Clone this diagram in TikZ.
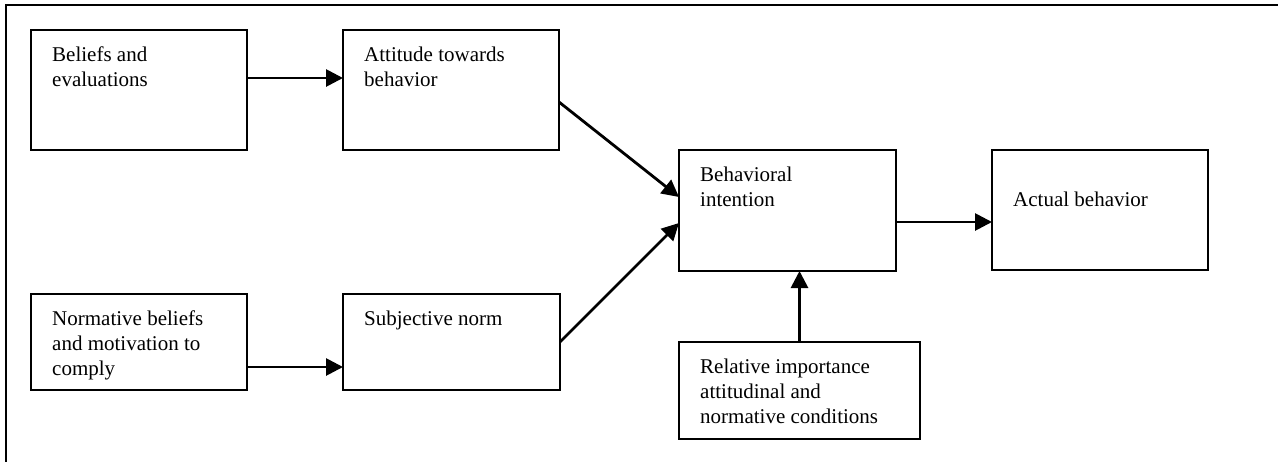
\documentclass[tikz,border=0pt]{standalone}
\usepackage{fontspec}
\setmainfont{Liberation Serif}
\usetikzlibrary{arrows.meta}

\begin{document}
\begin{tikzpicture}[x=1pt, y=-1pt,
  blk/.style={draw, line width=1.6pt, inner sep=0pt, outer sep=0pt, anchor=north west},
  txt/.style={anchor=north west, inner sep=0pt, align=left, xshift=21pt, yshift=-16.7pt,
    font=\fontsize{21}{25}\selectfont},
  arr/.style={line width=2.8pt, -{Triangle[length=17pt, width=17pt]}}]
\useasboundingbox (0,0) rectangle (1278,461);
\clip (0,0) rectangle (1278,461);
\coordinate (f1) at (6,5);
\coordinate (f2) at (1300,480);
\draw [line width=2pt] (f1) rectangle (f2);
\node[blk, minimum width=216pt, minimum height=120pt, label={[txt]north west:{Beliefs and\\evaluations}}] (bel) at (31,30) {};
\node[blk, minimum width=216pt, minimum height=120pt, label={[txt]north west:{Attitude towards\\behavior}}] (att) at (343,30) {};
\node[blk, minimum width=216pt, minimum height=96pt, label={[txt]north west:{Normative beliefs\\and motivation to\\comply}}] (nor) at (31,294) {};
\node[blk, minimum width=217pt, minimum height=96pt, label={[txt]north west:{Subjective norm}}] (sub) at (343,294) {};
\node[blk, minimum width=217pt, minimum height=121pt, label={[txt]north west:{Behavioral\\intention}}] (beh) at (679,150) {};
\node[blk, minimum width=216pt, minimum height=120pt, label={[txt, yshift=-25pt]north west:{Actual behavior}}] (act) at (992,150) {};
\node[blk, minimum width=241pt, minimum height=97pt, label={[txt]north west:{Relative importance\\attitudinal and\\normative conditions}}] (rel) at (679,342) {};
\draw [arr] ([yshift=12pt]bel.east) -- ([yshift=12pt]bel.east -| att.west);
\draw [arr] ([yshift=-25pt]nor.east) -- ([yshift=-25pt]nor.east -| sub.west);
\draw [arr] ([yshift=-12pt]att.east) -- ([yshift=13.5pt]beh.west);
\draw [arr] (sub.east) -- ([yshift=-12.5pt]beh.west);
\draw [arr] ([yshift=-11.5pt]beh.east) -- ([yshift=-11.5pt]beh.east -| act.west);
\draw [arr] (rel.north) -- (rel.north |- beh.south);
\end{tikzpicture}
\end{document}
